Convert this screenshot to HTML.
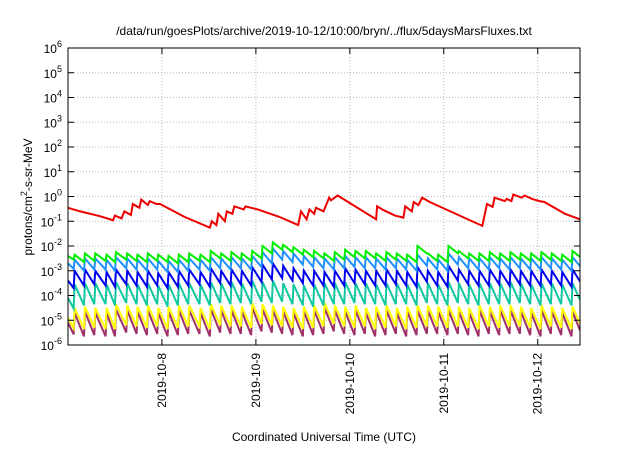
<!DOCTYPE html>
<html><head><meta charset="utf-8"><style>
body{margin:0;background:#fff}
svg{font-family:"Liberation Sans",sans-serif}
</style></head><body>
<svg id="chart" width="640" height="448" viewBox="0 0 640 448" xmlns="http://www.w3.org/2000/svg">
<rect width="640" height="448" fill="#fff"/>
<text x="324" y="35" font-size="12" text-anchor="middle">/data/run/goesPlots/archive/2019-10-12/10:00/bryn/../flux/5daysMarsFluxes.txt</text>
<text transform="translate(32,197) rotate(-90)" font-size="12" text-anchor="middle">protons/cm<tspan baseline-shift="super" font-size="9">2</tspan>-s-sr-MeV</text>
<text x="324" y="441" font-size="12" text-anchor="middle">Coordinated Universal Time (UTC)</text>
<g id="grid"></g><g id="series"></g><g id="axes"></g>
</svg>
<script>
const yExps=[-6,-5,-4,-3,-2,-1,0,1,2,3,4,5,6];
const xTickDays=[1,2,3,4,5];
const xTickLabels=["2019-10-8","2019-10-9","2019-10-10","2019-10-11","2019-10-12"];
const jumpT=[0.06,0.17,0.28,0.40,0.50,0.62,0.73,0.84,0.95,1.06,1.17,1.28,1.40,1.51,1.62,1.73,1.84,1.95,2.06,2.17,2.28,2.39,2.50,2.61,2.72,2.83,2.94,3.05,3.16,3.27,3.38,3.49,3.60,3.71,3.82,3.93,4.04,4.15,4.26,4.37,4.48,4.59,4.70,4.81,4.92,5.03,5.14,5.25,5.36];
const greenPeak=[-2.35,-2.3,-2.3,-2.35,-2.25,-2.3,-2.35,-2.3,-2.35,-2.4,-2.35,-2.3,-2.35,-2.2,-2.3,-2.25,-2.3,-2.2,-2.0,-1.85,-1.95,-2.05,-2.15,-2.2,-2.3,-2.25,-2.15,-2.2,-2.2,-2.3,-2.25,-2.3,-2.35,-2.0,-2.3,-2.35,-2.0,-2.2,-2.3,-2.3,-2.25,-2.3,-2.25,-2.3,-2.3,-2.25,-2.3,-2.35,-2.2];
const lblueFlux=[-2.55,-2.5,-2.5,-2.55,-2.45,-2.5,-2.55,-2.5,-2.6,-2.6,-2.55,-2.5,-2.55,-2.45,-2.5,-2.45,-2.5,-2.4,-2.25,-2.1,-2.2,-2.3,-2.4,-2.45,-2.5,-2.45,-2.4,-2.45,-2.45,-2.5,-2.45,-2.5,-2.55,-2.35,-2.5,-2.55,-2.3,-2.45,-2.5,-2.5,-2.45,-2.5,-2.45,-2.5,-2.5,-2.45,-2.5,-2.55,-2.45];
const blueFlux=[-3.0,-2.95,-3.0,-3.05,-2.95,-3.0,-3.05,-3.0,-3.1,-3.05,-3.0,-2.95,-3.05,-2.9,-3.0,-2.95,-3.0,-2.85,-2.75,-2.7,-2.8,-2.9,-3.0,-3.0,-3.05,-3.0,-2.9,-2.95,-3.0,-3.0,-2.95,-3.0,-3.05,-2.85,-3.0,-3.05,-2.8,-2.95,-3.0,-3.0,-2.95,-3.0,-2.95,-3.0,-3.0,-2.95,-3.0,-3.05,-2.95];
const tealFlux=[-3.55,-3.5,-3.5,-3.55,-3.45,-3.5,-3.55,-3.5,-3.6,-3.55,-3.5,-3.5,-3.55,-3.45,-3.5,-3.45,-3.5,-3.4,-3.45,-3.4,-3.5,-3.55,-3.6,-3.55,-3.5,-3.5,-3.45,-3.5,-3.5,-3.55,-3.5,-3.5,-3.55,-3.45,-3.5,-3.55,-3.45,-3.5,-3.55,-3.5,-3.5,-3.5,-3.45,-3.5,-3.55,-3.5,-3.5,-3.55,-3.5];
const yellowFlux=[-4.5,-4.45,-4.5,-4.5,-4.35,-4.4,-4.45,-4.4,-4.5,-4.45,-4.4,-4.4,-4.5,-4.35,-4.4,-4.4,-4.45,-4.3,-4.35,-4.4,-4.45,-4.5,-4.45,-4.4,-4.3,-4.4,-4.45,-4.4,-4.5,-4.45,-4.4,-4.5,-4.45,-4.4,-4.4,-4.45,-4.4,-4.45,-4.5,-4.4,-4.45,-4.4,-4.4,-4.45,-4.5,-4.4,-4.45,-4.5,-4.45];
const purpleFlux=[-4.7,-4.65,-4.7,-4.7,-4.55,-4.6,-4.65,-4.6,-4.7,-4.65,-4.6,-4.6,-4.7,-4.55,-4.6,-4.6,-4.65,-4.5,-4.55,-4.6,-4.65,-4.7,-4.65,-4.6,-4.5,-4.6,-4.65,-4.6,-4.7,-4.65,-4.6,-4.7,-4.65,-4.6,-4.6,-4.65,-4.6,-4.65,-4.7,-4.6,-4.65,-4.6,-4.6,-4.65,-4.7,-4.6,-4.65,-4.7,-4.65];
const seriesStart=[-2.4,-2.7,-3.4,-4.1,-4.9,-5.1];
const seriesDrop=[0.3,0.45,0.6,0.85,0.85,0.95];
const redT=[0,0.13,0.34,0.48,0.50,0.57,0.60,0.67,0.69,0.76,0.78,0.85,0.87,0.94,0.98,1.24,1.51,1.53,1.58,1.60,1.67,1.69,1.75,1.77,1.87,1.89,2.02,2.25,2.45,2.48,2.54,2.57,2.62,2.64,2.72,2.78,2.80,2.87,3.28,3.29,3.36,3.48,3.57,3.59,3.66,3.68,3.73,3.77,3.85,4.07,4.41,4.46,4.52,4.54,4.65,4.67,4.72,4.74,4.83,4.86,4.94,5.02,5.07,5.29,5.45];
const redV=[0.35,0.25,0.16,0.11,0.17,0.13,0.25,0.18,0.5,0.35,0.75,0.45,0.65,0.5,0.5,0.15,0.055,0.1,0.07,0.2,0.1,0.25,0.2,0.4,0.3,0.4,0.3,0.15,0.07,0.25,0.12,0.3,0.2,0.35,0.25,0.9,0.7,1.1,0.12,0.4,0.28,0.17,0.14,0.4,0.25,0.6,0.45,0.9,0.6,0.25,0.065,0.5,0.38,0.9,0.65,0.8,0.65,1.2,0.9,1.1,0.8,0.65,0.6,0.2,0.12];
const L=68,R=580,T=48,B=345,D0=0,D1=5.45;
const xs=t=>L+(t-D0)/(D1-D0)*(R-L);
const ys=e=>B-(e+6)/12*(B-T);
const NS="http://www.w3.org/2000/svg";
function mk(tag,attrs,parent){const el=document.createElementNS(NS,tag);for(const k in attrs)el.setAttribute(k,attrs[k]);parent.appendChild(el);return el;}
const grid=document.getElementById('grid'),axes=document.getElementById('axes'),ser=document.getElementById('series');
yExps.forEach(e=>{
  const y=ys(e);
  if(e>-6&&e<6){const g=mk('line',{x1:L,x2:R,y1:y,y2:y,stroke:'#bbb','stroke-dasharray':'1,2'},grid);
  
  }
  mk('line',{x1:L,x2:L+6,y1:y,y2:y,stroke:'#000'},axes);
  mk('line',{x1:R,x2:R-6,y1:y,y2:y,stroke:'#000'},axes);
  const t=mk('text',{x:L-6,y:y+5,'font-size':'12','text-anchor':'end'},axes);
  
  
  t.innerHTML='10<tspan dy="-6" font-size="9">'+e+'</tspan>';
});
xTickDays.forEach((d,i)=>{
  const x=xs(d);
  const g=mk('line',{x1:x,x2:x,y1:T,y2:B,stroke:'#bbb','stroke-dasharray':'1,2'},grid);
  
  
  mk('line',{x1:x,x2:x,y1:B,y2:B-6,stroke:'#000'},axes);
  mk('line',{x1:x,x2:x,y1:T,y2:T+6,stroke:'#000'},axes);
  const t=mk('text',{transform:`translate(${x+4},${353}) rotate(-90)`,'font-size':'12','text-anchor':'end'},axes);
  
  
  t.textContent=xTickLabels[i];
});
const fr=mk('rect',{x:L,y:T,width:R-L,height:B-T,fill:'none',stroke:'#000'},axes);


const defs=[[greenPeak,'#00ee00','green-series'],[lblueFlux,'#1e90ff','light-blue-series'],[blueFlux,'#0000ee','blue-series'],[tealFlux,'#10c8a0','teal-series'],[yellowFlux,'#ffff00','yellow-series'],[purpleFlux,'#a0306a','purple-series']];
const cp=document.createElementNS(NS,'clipPath');cp.id='clip';mk('rect',{x:L,y:T,width:R-L,height:B-T},cp);ser.appendChild(cp);
[5,4,3,2,1,0].forEach(si=>{
  const [pk,col,name]=defs[si];
  let prev=seriesStart[si];
  let d=`M${xs(0)},${ys(prev)}`;
  jumpT.forEach((t,i)=>{
    const trough=i===0?prev-seriesDrop[si]*0.5:pk[i-1]-seriesDrop[si];
    d+=` L${xs(t)},${ys(trough)} L${xs(t)+1},${ys(pk[i])}`;
  });
  d+=` L${xs(D1)},${ys(pk[pk.length-1]-seriesDrop[si]*0.8)}`;
  const p=mk('path',{d,fill:'none',stroke:col,'stroke-width':'2','clip-path':'url(#clip)'},ser);
  
  
});
let rd='';
redT.forEach((t,i)=>{rd+=(i?' L':'M')+xs(t)+','+ys(Math.log10(redV[i]));});
const rp=mk('path',{d:rd,fill:'none',stroke:'#ee0000','stroke-width':'2'},ser);


</script>
</body></html>
